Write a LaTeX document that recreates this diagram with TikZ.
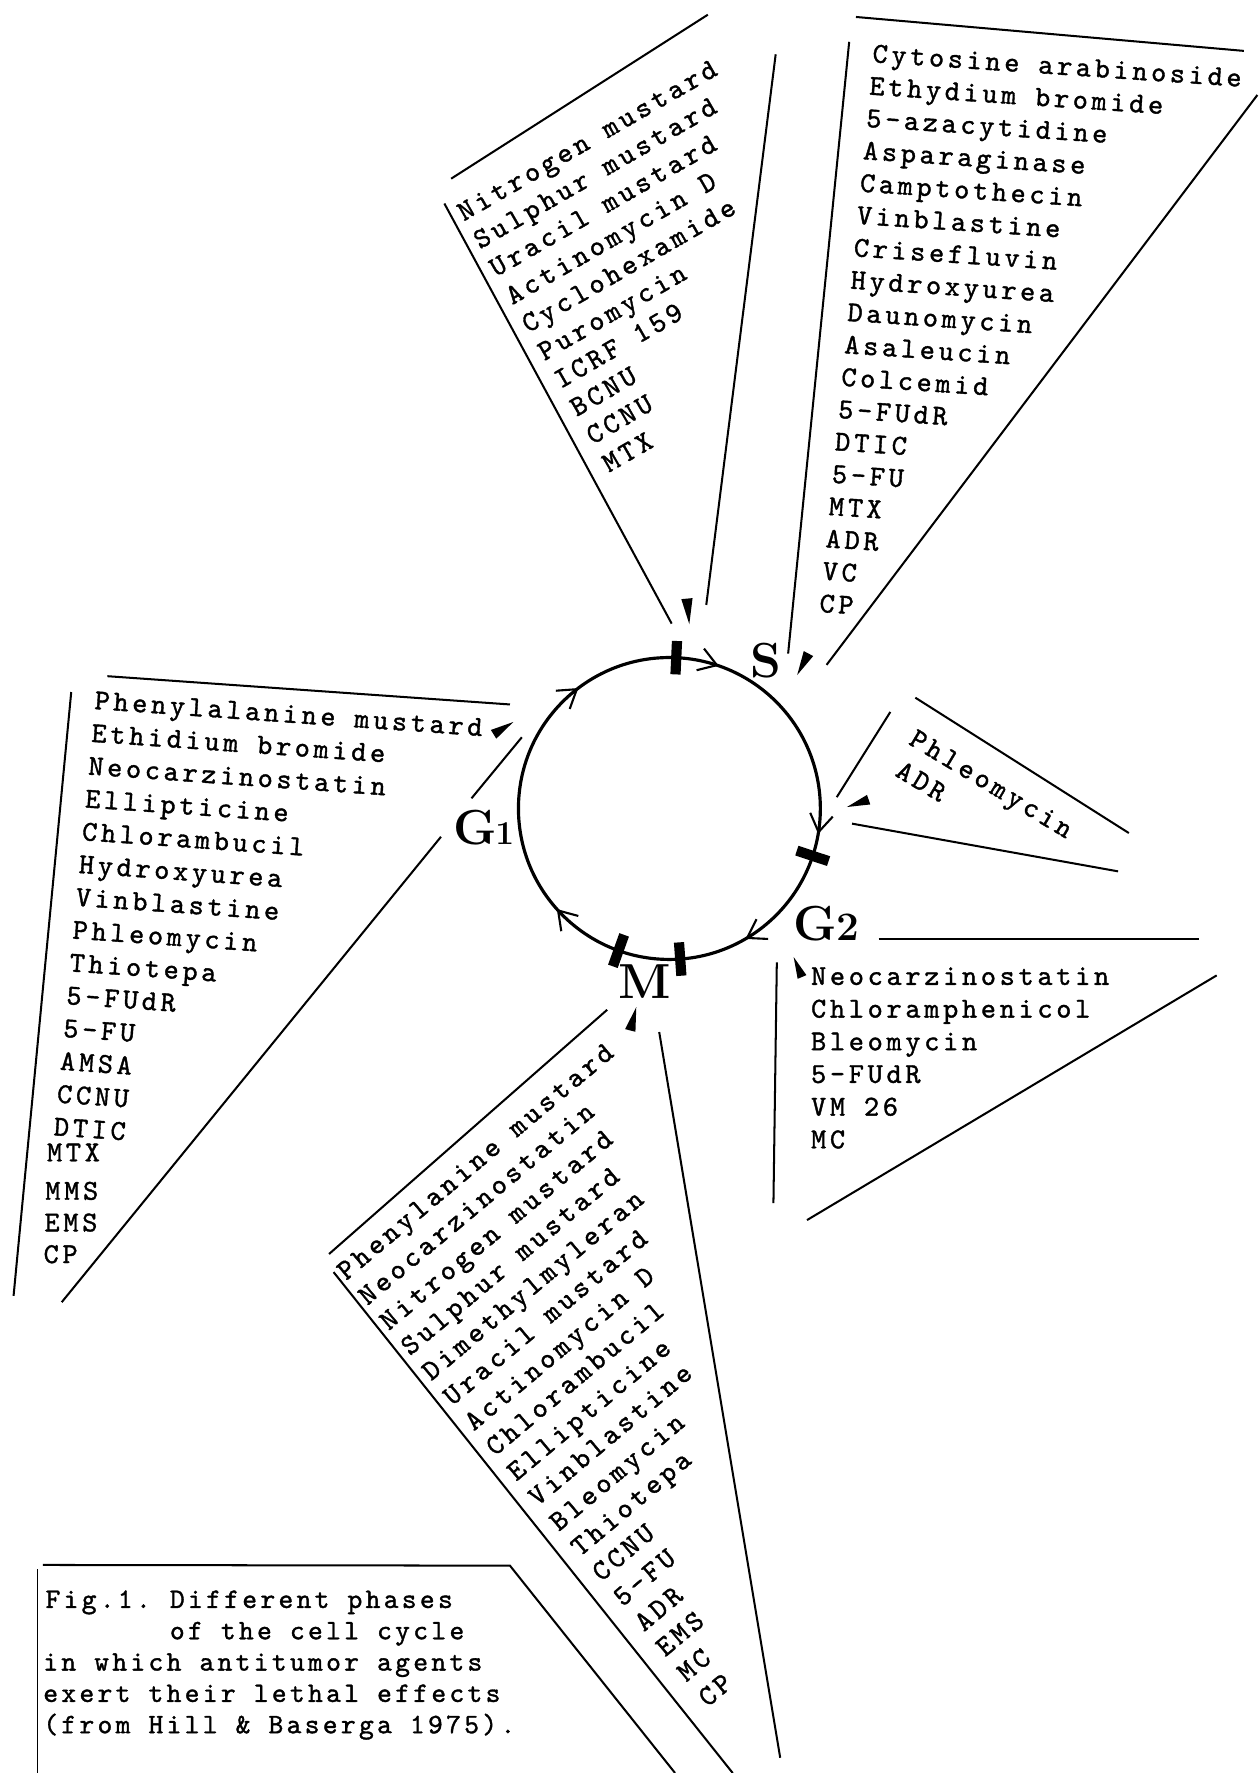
\documentclass[tikz,border=0pt]{standalone}
\usepackage{fontspec}
\usetikzlibrary{calc,arrows.meta,decorations.markings}
\newfontfamily\typewriter[LetterSpace=12.9, FakeBold=1.3]{lmmono10-regular.otf}
\newfontfamily\captionface[LetterSpace=11.8, FakeBold=1.3]{lmmono10-regular.otf}

% one drug per line: prefix, start point, step between lines, rotation, items
\newcommand\druglist[5]{%
  \foreach \t [count=\i from 0] in {#5} {%
    \node[drug, rotate=#4] (#1\i) at ($(#2)+\i*(#3)$) {\t};
  }}
% solid wedge pointing from its base centre (#2) to its tip (#1)
\newcommand\tipwedge[2]{\fill (#1) -- ($(#2)!0.22!90:(#1)$) -- ($(#2)!0.22!-90:(#1)$) -- cycle;}

\tikzset{flow/.tip={Straight Barb[length=10pt, width=13pt, line width=1.2pt]}}

\begin{document}
\begin{tikzpicture}[x=0.0226cm, y=0.0226cm,
  fan/.style={line width=1.15pt},
  drug/.style={font=\typewriter\fontsize{16.4}{18}\selectfont, inner sep=0pt, anchor=base west},
  captext/.style={font=\captionface\fontsize{16}{18}\selectfont, inner sep=0pt, anchor=base west},
  phase/.style={font=\fontsize{28}{30}\selectfont\bfseries, inner sep=0pt},
  gate/.style={rectangle, fill=black, minimum width=19pt, minimum height=5.8pt, inner sep=0pt},
  cyclearc/.style={line width=1.8pt, postaction={decorate}, decoration={markings,
    mark=at position 0.027 with {\arrow{flow}},
    mark=at position 0.166 with {\arrow{flow}},
    mark=at position 0.384 with {\arrow{flow}},
    mark=at position 0.647 with {\arrow{flow}},
    mark=at position 0.803 with {\arrow{flow}}}},
]
\useasboundingbox (0,0) rectangle (1113,-1568);

% ---------------- the cell cycle ----------------
\coordinate (ctr) at (592,-715);
\draw[cyclearc] ($(ctr)+(0:133.5)$) arc[start angle=0, end angle=-360, radius=133.5];
\node[gate, rotate=87.4]  (gateS)  at ($(ctr)+(87.4:133.5)$) {};
\node[gate, rotate=-18.3] (gateG2) at ($(ctr)+(-18.3:133.5)$) {};
\node[gate, rotate=-85.9] (gateM1) at ($(ctr)+(-85.9:133.5)$) {};
\node[gate, rotate=-109.7](gateM2) at ($(ctr)+(-109.7:133.5)$) {};

\node[phase] (S)  at (677,-584) {S};
\node[phase] (G1) at (428,-732) {G\kern-1pt{\fontsize{19}{20}\selectfont 1}};
\node[phase] (G2) at (731,-817) {G{\fontsize{23}{24}\selectfont 2}};
\node[phase] (M)  at (570,-868) {M};

% ---------------- fan above the S gate ----------------
\coordinate (nA) at (399,-158);   \coordinate (nB) at (626,-13);
\coordinate (nC) at (393,-180);   \coordinate (nD) at (594,-551.5);
\coordinate (nE) at (686,-48);    \coordinate (nF) at (624.6,-535);
\coordinate (nT) at (609.6,-552); \coordinate (nW) at (607.5,-529.4);
\draw[fan] (nA) -- (nB);
\draw[fan] (nC) -- (nD);
\draw[fan] (nE) -- (nF);
\tipwedge{nT}{nW}
\coordinate (n0) at (410,-196);
\druglist{nl}{n0}{14.25,-24.7}{30}{Nitrogen mustard,Sulphur mustard,Uracil mustard,Actinomycin D,Cyclohexamide,Puromycin,ICRF 159,BCNU,CCNU,MTX}

% ---------------- fan of S ----------------
\coordinate (sA) at (757,-15);    \coordinate (sB) at (1100,-45);
\coordinate (sC) at (751,-37);    \coordinate (sD) at (697,-578);
\coordinate (sE) at (1112,-84);   \coordinate (sF) at (731,-588);
\coordinate (sT) at (705,-597);   \coordinate (sW) at (715,-578);
\draw[fan] (sA) -- (sB);
\draw[fan] (sC) -- (sD);
\draw[fan] (sE) -- (sF);
\tipwedge{sT}{sW}
\coordinate (s0) at (771,-55);
\druglist{sl}{s0}{-2.76,-28.6}{-3.8}{Cytosine arabinoside,Ethydium bromide,5-azacytidine,Asparaginase,Camptothecin,Vinblastine,Crisefluvin,Hydroxyurea,Daunomycin,Asaleucin,Colcemid,5-FUdR,DTIC,5-FU,MTX,ADR,VC,CP}

% ---------------- fan of G1 ----------------
\coordinate (gA) at (95,-598);    \coordinate (gB) at (451,-623);
\coordinate (gC) at (63,-612);    \coordinate (gD) at (12,-1146);
\coordinate (gE) at (461.5,-652); \coordinate (gF) at (417,-706);
\coordinate (gG) at (390,-740);   \coordinate (gH) at (54.6,-1151.6);
\coordinate (gT) at (454,-638.5); \coordinate (gW) at (436.5,-649.4);
\draw[fan] (gA) -- (gB);
\draw[fan] (gC) -- (gD);
\draw[fan] (gE) -- (gF);
\draw[fan] (gG) -- (gH);
\tipwedge{gT}{gW}
\coordinate (g0) at (83,-627);
\druglist{gl}{g0}{-2.77,-29}{-4}{Phenylalanine mustard,Ethidium bromide,Neocarzinostatin,Ellipticine,Chlorambucil,Hydroxyurea,Vinblastine,Phleomycin,Thiotepa,5-FUdR,5-FU,AMSA,CCNU,DTIC}
\node[drug] (glx) at (41.3,-1027) {MTX};
\coordinate (g1) at (39.8,-1061);
\druglist{glb}{g1}{-0.75,-28}{0}{MMS,EMS,CP}

% ---------------- small fan before G2 ----------------
\coordinate (pA) at (787.4,-629.6); \coordinate (pB) at (740,-705);
\coordinate (pC) at (809.5,-617);   \coordinate (pD) at (998.3,-736.7);
\coordinate (pE) at (753.5,-728.4); \coordinate (pF) at (988.8,-770.6);
\coordinate (pT) at (749,-713.7);   \coordinate (pW) at (768.2,-707.2);
\draw[fan] (pA) -- (pB);
\draw[fan] (pC) -- (pD);
\draw[fan] (pE) -- (pF);
\tipwedge{pT}{pW}
\coordinate (p0) at (802.5,-657.5);
\druglist{pl}{p0}{-12,-28}{-31}{Phleomycin,ADR}

% ---------------- fan of G2 ----------------
\coordinate (hA) at (777,-830);     \coordinate (hB) at (1060,-830);
\coordinate (hC) at (687,-851);     \coordinate (hD) at (684,-1064);
\coordinate (hE) at (1076,-862.6);  \coordinate (hF) at (713.7,-1079);
\coordinate (hT) at (701.9,-846.4); \coordinate (hW) at (709.3,-864);
\draw[fan] (hA) -- (hB);
\draw[fan] (hC) -- (hD);
\draw[fan] (hE) -- (hF);
\tipwedge{hT}{hW}
\coordinate (h0) at (717,-871);
\druglist{hl}{h0}{0,-28.9}{0}{Neocarzinostatin,Chloramphenicol,Bleomycin,5-FUdR,VM 26,MC}

% ---------------- fan of M ----------------
\coordinate (mA) at (291,-1109);    \coordinate (mB) at (537,-893);
\coordinate (mC) at (295,-1125);    \coordinate (mD) at (648,-1568);
\coordinate (mE) at (583,-912.7);   \coordinate (mF) at (690,-1554.5);
\coordinate (mT) at (562.7,-890.6); \coordinate (mW) at (557.4,-911.3);
\draw[fan] (mA) -- (mB);
\draw[fan] (mC) -- (mD);
\draw[fan] (mE) -- (mF);
\tipwedge{mT}{mW}
\coordinate (m0) at (306,-1133);
\druglist{ml}{m0}{18.8,-22.2}{40}{Phenylanine mustard,Neocarzinostatin,Nitrogen mustard,Sulphur mustard,Dimethylmyleran,Uracil mustard,Actinomycin D,Chlorambucil,Ellipticine,Vinblastine,Bleomycin,Thiotepa,CCNU,5-FU,ADR,EMS,MC,CP}

% ---------------- caption box ----------------
\coordinate (cA) at (33,-1568);  \coordinate (cB) at (33,-1388);
\coordinate (cC) at (38,-1384);  \coordinate (cD) at (451,-1384.6);
\coordinate (cE) at (597,-1568);
\draw[line width=0.8pt] (cA) -- (cB);
\draw[fan] (cC) -- (cD) -- (cE);
\node[captext] (cap0)  at (40,-1422)   {Fig.1.};
\node[captext] (cap0b) at (150,-1422)  {Different phases};
\node[captext] (cap1)  at (150,-1449.7){of the cell cycle};
\node[captext] (cap2)  at (38,-1477.4) {in which antitumor agents};
\node[captext] (cap3)  at (38,-1505.1) {exert their lethal effects};
\node[captext] (cap4)  at (38,-1532.8) {(from Hill \& Baserga 1975).};
\end{tikzpicture}
\end{document}
